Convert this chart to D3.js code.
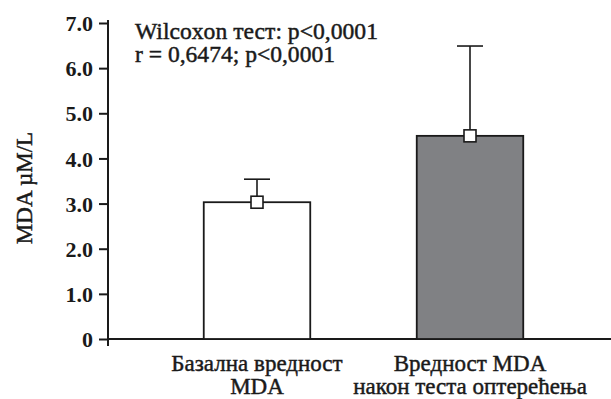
<!DOCTYPE html>
<html><head><meta charset="utf-8">
<script src="https://cdn.jsdelivr.net/npm/d3@7"></script>
<style>body{margin:0;background:#fff}svg{display:block}</style>
</head><body>
<script>
const categories = [["Базална вредност","MDA"],["Вредност MDA","након теста оптерећења"]];
const means = [3.03, 4.50];
const errUpper = [3.54, 6.49];
const fills = ["#ffffff", "#808184"];
const yTicks = [0,1,2,3,4,5,6,7];
const yTickLabels = ["0","1.0","2.0","3.0","4.0","5.0","6.0","7.0"];
const annotation = ["Wilcoxon тест: p<0,0001","r = 0,6474; p<0,0001"];
const yLabel = "MDA µM/L";

const FONT = "'Liberation Serif','Times New Roman',Times,serif";
const W=611,H=399;
const svg=d3.select("body").append("svg").attr("width",W).attr("height",H)
  .style("font-family",FONT);
const y=d3.scaleLinear().domain([0,7]).range([339,23]);
const x=d3.scaleBand().domain(d3.range(categories.length)).range([150.5,576.5]).paddingInner(0.5).paddingOuter(0.25);
const ink="#1a1a1a";

function heavy(sel){ return sel.attr("stroke",ink).attr("stroke-width",0.45).attr("paint-order","stroke"); }

// x axis baseline
svg.append("line").attr("x1",108).attr("x2",W).attr("y1",y(0)).attr("y2",y(0)).attr("stroke",ink).attr("stroke-width",1.8);

// bars
const g=svg.append("g");
categories.forEach((c,i)=>{
  const cx=x(i)+x.bandwidth()/2;
  g.append("line").attr("x1",cx).attr("x2",cx).attr("y1",y(means[i])).attr("y2",y(errUpper[i])).attr("stroke",ink).attr("stroke-width",1.6);
  g.append("line").attr("x1",cx-13).attr("x2",cx+13).attr("y1",y(errUpper[i])).attr("y2",y(errUpper[i])).attr("stroke",ink).attr("stroke-width",1.6);
  g.append("rect").attr("x",x(i)).attr("y",y(means[i])).attr("width",x.bandwidth()).attr("height",y(0)-y(means[i]))
    .attr("fill",fills[i]).attr("stroke",ink).attr("stroke-width",1.8);
  g.append("rect").attr("x",cx-6).attr("y",y(means[i])-6).attr("width",12).attr("height",12).attr("fill","#fff").attr("stroke",ink).attr("stroke-width",1.6);
  c.forEach((t,k)=>{
    heavy(svg.append("text").attr("x",cx).attr("y",371+k*23).attr("text-anchor","middle")
      .style("font-family",FONT).attr("font-size",23).attr("fill",ink)).text(t);
  });
});

// y axis
const ya=svg.append("g").attr("transform","translate(108,0)")
  .call(d3.axisLeft(y).tickValues(yTicks).tickFormat((d,i)=>yTickLabels[i]).tickSize(9).tickPadding(6).tickSizeOuter(0));
ya.attr("font-family",null);
ya.select(".domain").remove();
ya.append("line").attr("x1",0).attr("x2",0).attr("y1",y(7)-3).attr("y2",346).attr("stroke",ink).attr("stroke-width",2);
ya.selectAll(".tick line").attr("stroke",ink).attr("stroke-width",2);
ya.selectAll(".tick text").style("font-family",FONT).attr("font-size",22).attr("font-weight","bold").attr("fill",ink).attr("dy","0.35em");

// y label
heavy(svg.append("text").attr("transform","translate(32,188) rotate(-90)").attr("text-anchor","middle")
  .style("font-family",FONT).attr("font-size",23).attr("fill",ink)).text(yLabel);

// annotation
const annLen=[243,200];
annotation.forEach((t,k)=>{
  heavy(svg.append("text").attr("x",135).attr("y",39+k*23).style("font-family",FONT).attr("font-size",23).attr("fill",ink))
    .attr("textLength", annLen[k]).attr("lengthAdjust","spacingAndGlyphs").text(t);
});
</script>
</body></html>
